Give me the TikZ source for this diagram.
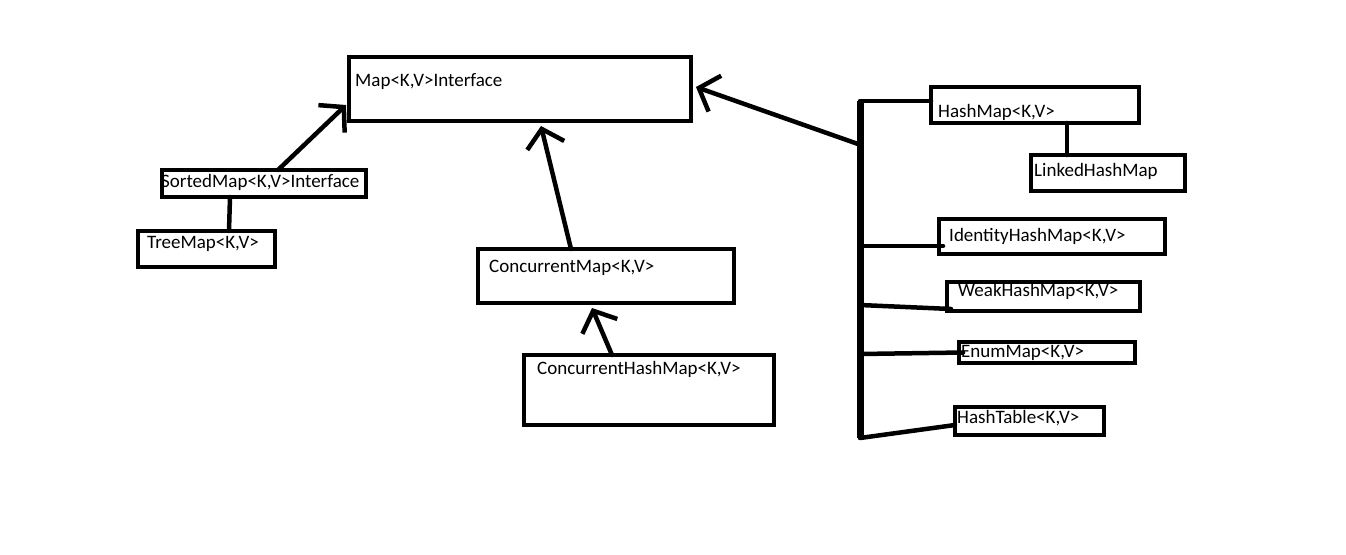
\documentclass[tikz,border=0pt]{standalone}
\usepackage{fontspec}
\setmainfont{Carlito}
\usetikzlibrary{arrows.meta,calc}
\tikzset{
  boxst/.style={draw=black, line width=4.5pt, fill=none, anchor=north west, inner sep=0pt, outer sep=0pt},
  lbl/.style={anchor=west, inner sep=0pt, font=\fontsize{19}{21}\selectfont},
  conn/.style={line width=4.5pt, line cap=round},
  arr/.style={conn, -{Straight Barb[length=17pt, width=38pt, line width=4.5pt]}},
}
\begin{document}
\begin{tikzpicture}[x=1pt, y=-1pt]
\useasboundingbox (0,0) rectangle (1346,554);
% boxes
\node[boxst, minimum width=342pt, minimum height=64pt] (map) at (349,57) {};
\node[boxst, minimum width=204pt, minimum height=27pt] (sorted) at (162,170) {};
\node[boxst, minimum width=137pt, minimum height=36pt] (tree) at (138,231) {};
\node[boxst, minimum width=256pt, minimum height=54pt] (cmap) at (478,249) {};
\node[boxst, minimum width=250pt, minimum height=70pt] (chm) at (524,355) {};
\node[boxst, minimum width=208pt, minimum height=36pt] (hash) at (931,87) {};
\node[boxst, minimum width=154pt, minimum height=36pt] (linked) at (1031,155) {};
\node[boxst, minimum width=226pt, minimum height=35pt] (ident) at (939,219) {};
\node[boxst, minimum width=193pt, minimum height=29pt] (weak) at (947,282) {};
\node[boxst, minimum width=176pt, minimum height=21pt] (enum) at (959,342) {};
\node[boxst, minimum width=149pt, minimum height=28pt] (table) at (955,407) {};
% labels
\node[lbl] (mapt) at (355,82) {Map<K,V>Interface};
\node[lbl] (sortedt) at (161,182) {SortedMap<K,V>Interface};
\node[lbl] (treet) at (147,244) {TreeMap<K,V>};
\node[lbl] (cmapt) at (489,268) {ConcurrentMap<K,V>};
\node[lbl] (chmt) at (537,369) {ConcurrentHashMap<K,V>};
\node[lbl] (hasht) at (938,112) {HashMap<K,V>};
\node[lbl] (linkedt) at (1034,171) {LinkedHashMap};
\node[lbl] (identt) at (949,236) {IdentityHashMap<K,V>};
\node[lbl] (weakt) at (958,291) {WeakHashMap<K,V>};
\node[lbl] (enumt) at (961,353) {EnumMap<K,V>};
\node[lbl] (tablet) at (957,418) {HashTable<K,V>};
% bar
\coordinate (bartop) at (860,101);
\coordinate (barbot) at (860,438);
\coordinate (barmid) at (858,144);
\draw[line width=7pt] (bartop) -- (barbot);
% branches
\draw[conn] (bartop) -- (hash.west |- bartop);
\draw[conn] (860,246) -- ($(ident.west |- 0,246)+(4,0)$);
\draw[conn] (860,305) -- ($(weak.south west)+(4,-2)$);
\draw[conn] (860,354) -- ($(enum.west)+(4,0)$);
\draw[conn] (barbot) -- ($(table.west)+(0,4)$);
% arrows
\draw[arr] (barmid) -- ($(map.north east)+(5,30)$);
\draw[arr] ($(sorted.north)+(14,0)$) -- ($(map.north west)+(-3,48)$);
\draw[arr] ($(cmap.north)+(-35,0)$) -- ($(map.south)+(21,5)$);
\draw[arr] ($(chm.north)+(-37,0)$) -- ($(cmap.south)+(-14,5)$);
% plain links
\draw[conn] ($(sorted.south)+(-34,0)$) -- ($(tree.north west)+(91,0)$);
\draw[conn] ($(hash.south)+(32,0)$) -- ($(linked.north west)+(36,0)$);
\end{tikzpicture}
\end{document}
